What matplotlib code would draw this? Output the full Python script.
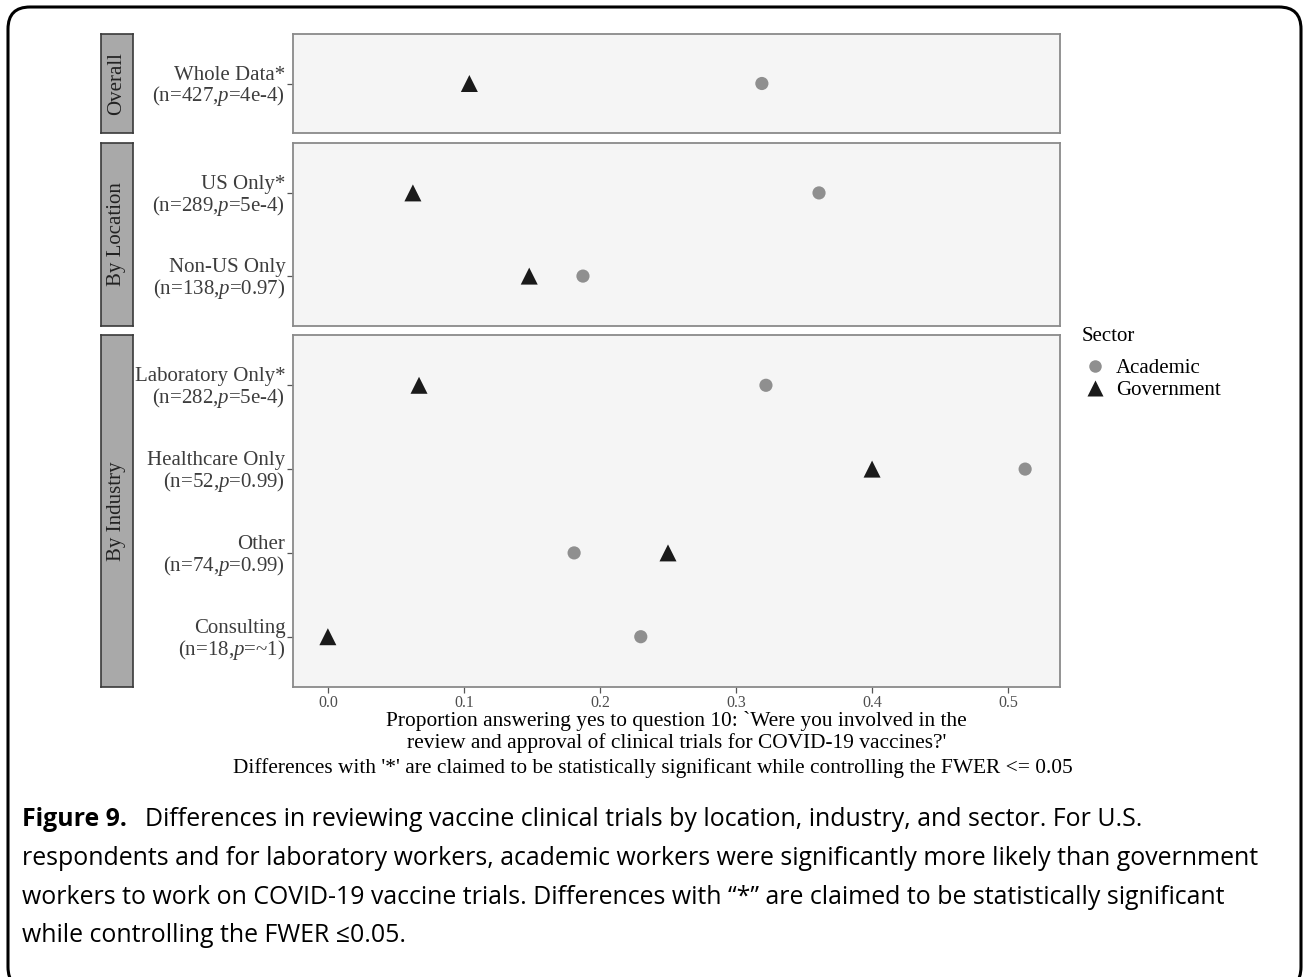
import numpy as np
import matplotlib
matplotlib.use("Agg")
import matplotlib.pyplot as plt
from matplotlib.lines import Line2D
from matplotlib.patches import FancyBboxPatch
from matplotlib.transforms import IdentityTransform

plt.rcParams['font.family'] = ['Liberation Serif', 'DejaVu Serif']
plt.rcParams['mathtext.fontset'] = 'custom'
plt.rcParams['mathtext.rm'] = 'Liberation Serif'
plt.rcParams['mathtext.it'] = 'Liberation Serif:italic'

# data
facets = ["Overall", "By Location", "By Industry"]
rows_overall = ["Whole Data*\n(n=427,$\\mathit{p}$=4e-4)"]
rows_location = ["US Only*\n(n=289,$\\mathit{p}$=5e-4)",
                 "Non-US Only\n(n=138,$\\mathit{p}$=0.97)"]
rows_industry = ["Laboratory Only*\n(n=282,$\\mathit{p}$=5e-4)",
                 "Healthcare Only\n(n=52,$\\mathit{p}$=0.99)",
                 "Other\n(n=74,$\\mathit{p}$=0.99)",
                 "Consulting\n(n=18,$\\mathit{p}$=~1)"]
academic_overall = [0.319]
government_overall = [0.104]
academic_location = [0.361, 0.1875]
government_location = [0.0625, 0.148]
academic_industry = [0.322, 0.5125, 0.181, 0.230]
government_industry = [0.067, 0.400, 0.250, 0.0]
xticks = [0.0, 0.1, 0.2, 0.3, 0.4, 0.5]

W, H = 1309, 977
fig = plt.figure(figsize=(W / 100, H / 100), dpi=100)

def fx(px):
    return px / W

def fy(py):
    return 1 - py / H

# outer rounded frame
frame = FancyBboxPatch((8, -12), W - 16, H - 7 + 12,
                       boxstyle="round,pad=0,rounding_size=22",
                       transform=IdentityTransform(), fill=False,
                       edgecolor='black', linewidth=2.2)
fig.patches.append(frame)

panels = [(34, 133, rows_overall, academic_overall, government_overall),
          (143, 326, rows_location, academic_location, government_location),
          (335, 687, rows_industry, academic_industry, government_industry)]

xmin, xmax = 0.0, 0.5125
pad = (xmax - xmin) * 0.05
x_left, x_right = 293, 1060

axes = []
for i, (top, bot, rows, acad, gov) in enumerate(panels):
    ax = fig.add_axes([fx(x_left), fy(bot), fx(x_right - x_left), (bot - top) / H])
    ax.set_facecolor('#f5f5f5')
    y = np.arange(len(rows))
    ax.scatter(acad, y, marker='o', s=90, color='#8f8f8f', edgecolors='none', zorder=3)
    ax.scatter(gov, y, marker='^', s=150, color='#1a1a1a', edgecolors='none', zorder=3)
    ax.set_xlim(xmin - pad, xmax + pad)
    ax.set_ylim(len(rows) - 0.4, -0.6)
    ax.set_yticks(y)
    ax.set_yticklabels(rows, fontsize=15, color='#3d3d3d', linespacing=1.0)
    ax.tick_params(axis='y', length=4, color='#555555', width=0.9, pad=1.5)
    for sp in ax.spines.values():
        sp.set_color('#8a8a8a')
        sp.set_linewidth(1.3)
    ax.set_xticks(xticks)
    if i < 2:
        ax.tick_params(axis='x', length=0, labelbottom=False)
    else:
        ax.set_xticklabels([f"{t:.1f}" for t in xticks], fontsize=11.5, color='#4d4d4d')
        ax.tick_params(axis='x', length=4, color='#555555', width=0.9, pad=2)
    # facet strip on the left
    sax = fig.add_axes([fx(101), fy(bot), fx(133 - 101), (bot - top) / H])
    sax.set_xticks([])
    sax.set_yticks([])
    sax.set_facecolor('#a9a9a9')
    for sp in sax.spines.values():
        sp.set_color('#3a3a3a')
        sp.set_linewidth(1.2)
    sax.text(0.5, 0.5, facets[i], rotation=90, ha='center', va='center',
             fontsize=15, color='#222222', transform=sax.transAxes)
    axes.append(ax)

axes[-1].set_xlabel("Proportion answering yes to question 10: `Were you involved in the\n"
                    "review and approval of clinical trials for COVID-19 vaccines?'",
                    fontsize=15.4, linespacing=1.12, labelpad=0)
fig.text(fx(653), fy(768), "Differences with '*' are claimed to be statistically significant "
         "while controlling the FWER <= 0.05", ha='center', va='center', fontsize=15.4)

# legend
fig.text(fx(1082), fy(336), "Sector", fontsize=15, ha='left', va='center')
handles = [Line2D([], [], marker='o', linestyle='none', markersize=9,
                  markerfacecolor='#8f8f8f', markeredgecolor='none'),
           Line2D([], [], marker='^', linestyle='none', markersize=12,
                  markerfacecolor='#1a1a1a', markeredgecolor='none')]
fig.legend(handles, ["Academic", "Government"], loc='upper left',
           bbox_to_anchor=(fx(1062), fy(340)), frameon=False, fontsize=15,
           handletextpad=0.3, labelspacing=0.1, handlelength=1.4)

# caption
cap_font = ['Open Sans', 'DejaVu Sans']
cap_size = 17.9
fig.canvas.draw()
r = fig.canvas.get_renderer()
t0 = fig.text(fx(22), fy(820), "Figure 9.", fontsize=cap_size, fontweight='bold',
              family=cap_font, va='center', ha='left')
bb = t0.get_window_extent(renderer=r)
fig.text((bb.x1 + 18) / W, fy(820),
         "Differences in reviewing vaccine clinical trials by location, industry, and sector. For U.S.",
         fontsize=cap_size, family=cap_font, va='center', ha='left')
cap_lines = ["respondents and for laboratory workers, academic workers were significantly more likely than government",
             "workers to work on COVID-19 vaccine trials. Differences with \u201c*\u201d are claimed to be statistically significant",
             "while controlling the FWER \u22640.05."]
for k, line in enumerate(cap_lines):
    fig.text(fx(22), fy(858.5 + 38.5 * k), line, fontsize=cap_size, family=cap_font,
             va='center', ha='left')

fig.savefig("out.png", dpi=100)
